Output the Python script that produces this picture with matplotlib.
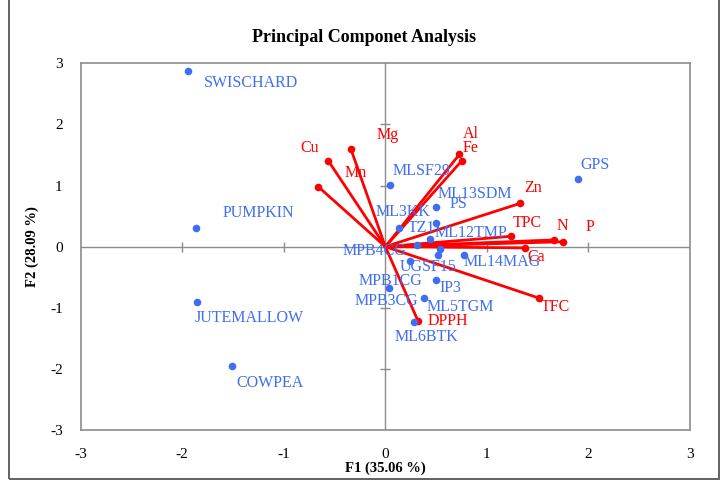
import matplotlib
matplotlib.use("Agg")
import matplotlib.pyplot as plt
from matplotlib.patches import Rectangle

plt.rcParams['font.family'] = ['Liberation Serif', 'DejaVu Serif']

# observations (F1, F2)
obs_names = ["SWISCHARD", "GPS", "PUMPKIN", "JUTEMALLOW", "COWPEA", "MLSF29",
             "ML13SDM", "PS", "ML3KK", "TZ1", "ML12TMP", "MPB4CG", "UGSF15",
             "MPB1CG", "MPB3CG", "ML14MAG", "IP3", "ML5TGM", "ML6BTK"]
obs_f1 = [-1.94, 1.90, -1.86, -1.85, -1.51, 0.05,
          0.50, 0.50, 0.13, 0.44, 0.54, 0.31, 0.52,
          0.24, 0.04, 0.77, 0.50, 0.38, 0.28]
obs_f2 = [2.88, 1.10, 0.31, -0.90, -1.95, 1.01,
          0.65, 0.39, 0.30, 0.13, -0.04, 0.02, -0.14,
          -0.23, -0.68, -0.14, -0.55, -0.84, -1.24]

# variables (loadings)
var_names = ["Cu", "Mg", "Mn", "Al", "Fe", "Zn", "TPC", "N", "P", "Ca", "TFC", "DPPH"]
var_f1 = [-0.56, -0.34, -0.66, 0.73, 0.75, 1.33, 1.24, 1.66, 1.75, 1.38, 1.51, 0.32]
var_f2 = [1.40, 1.60, 0.98, 1.51, 1.40, 0.71, 0.17, 0.11, 0.08, -0.02, -0.84, -1.21]

# label offsets in pixels (left edge, centre y; y down)
obs_off = [(16, 12), (2, -14), (26, -15), (-3, 16), (4, 17), (2, -14),
           (1, -13), (13, -19), (-23, -16), (-22, -11), (-6, -16), (-74, 6), (-38, 12),
           (-51, 20), (-35, 13), (0, 7), (3, 8), (3, 9), (-19, 15)]
var_off = [(-28, -13), (26, -14), (26, -14), (3, -20), (1, -13), (4, -15),
           (1, -13), (3, -14), (23, -15), (2, 9), (2, 9), (10, 0)]

blue = "#3f6ff0"
red = "#ff0000"
grey = "#8c8c8c"
px = 0.72  # pixel -> points at 100 dpi

fig = plt.figure(figsize=(7.28, 4.93), dpi=100)
ax = fig.add_axes([80.7 / 728, 1 - 430 / 493, (690 - 80.7) / 728, (430 - 63.3) / 493])

# outer chart border (top edge lies above the picture)
fig.patches.append(Rectangle((9 / 728, 1 - 479 / 493), 710 / 728, 1.2, transform=fig.transFigure,
                             fill=False, edgecolor="#555555", linewidth=1.3))

ax.set_xlim(-3, 3)
ax.set_ylim(-3, 3)
for s in ax.spines.values():
    s.set_color(grey)
    s.set_linewidth(1.2)

ax.axhline(0, color=grey, lw=1.0, zorder=1)
ax.axvline(0, color=grey, lw=1.0, zorder=1)
ticks = [-3, -2, -1, 0, 1, 2, 3]
ax.plot([0] * 5, [-2, -1, 0, 1, 2], ls="none", marker="_", ms=7, mew=1.0, color=grey, zorder=1)
ax.plot([-2, -1, 0, 1, 2], [0] * 5, ls="none", marker="|", ms=7, mew=1.0, color=grey, zorder=1)

ax.set_xticks(ticks)
ax.set_yticks(ticks)
ax.set_xticklabels([str(t) for t in ticks])
ax.set_yticklabels([str(t) for t in ticks])
ax.tick_params(length=0, labelsize=11, pad=13)
ax.tick_params(axis="y", pad=13)

for x, y in zip(var_f1, var_f2):
    ax.plot([0, x], [0, y], color=red, lw=2, zorder=2)
ax.scatter(var_f1, var_f2, s=30, color=red, zorder=3, linewidths=0)
ax.scatter(obs_f1, obs_f2, s=30, color=blue, zorder=4, linewidths=0)

for n, x, y, (dx, dy) in zip(obs_names, obs_f1, obs_f2, obs_off):
    ax.annotate(n, (x, y), xytext=(dx * px, -dy * px), textcoords="offset points",
                ha="left", va="center", color=blue, fontsize=11.5, zorder=5)
for n, x, y, (dx, dy) in zip(var_names, var_f1, var_f2, var_off):
    ax.annotate(n, (x, y), xytext=(dx * px, -dy * px), textcoords="offset points",
                ha="left", va="center", color=red, fontsize=11.5, zorder=5)

ax.set_xlabel("F1 (35.06 %)", fontweight="bold", fontsize=10.5, labelpad=0)
ax.set_ylabel("F2 (28.09 %)", fontweight="bold", fontsize=10.5, labelpad=8)
fig.text(0.5, 1 - 37 / 493, "Principal Componet Analysis", ha="center", va="center",
         fontweight="bold", fontsize=13)

fig.savefig("out.png", dpi=100)
